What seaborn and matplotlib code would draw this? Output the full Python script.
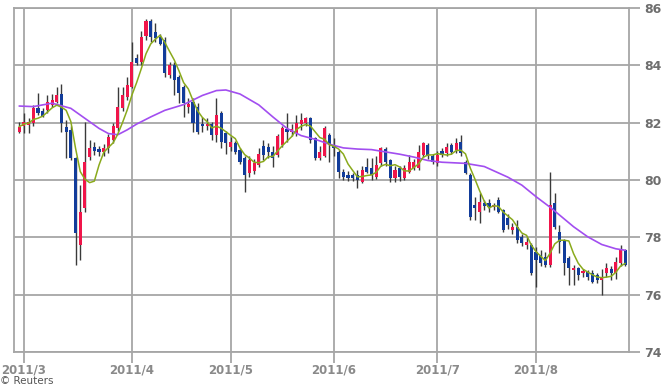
import numpy as np
import pandas as pd
import matplotlib
matplotlib.use("Agg")
import matplotlib.pyplot as plt
import seaborn as sns

# ---- data (daily USD/JPY candles, 2011-02-28 .. 2011-08-26) ----
opens = [81.69, 81.89, 81.92, 81.98, 82.50, 82.39, 82.44, 82.62, 82.73, 83.00,
         81.86, 81.75, 80.76, 77.73, 79.01, 80.79, 81.16, 81.07, 80.97, 81.10,
         81.40, 81.80, 82.50, 82.90, 83.25, 84.24, 84.13, 85.02, 85.56, 85.18,
         85.00, 84.90, 83.66, 84.00, 83.60, 83.26, 82.54, 82.73, 82.56, 81.95,
         81.90, 81.95, 81.57, 82.33, 81.63, 81.16, 81.28, 81.05, 80.76, 80.23,
         80.30, 80.52, 81.20, 81.16, 80.99, 80.88, 81.22, 81.78, 81.69, 81.63,
         81.95, 81.98, 82.15, 81.46, 80.76, 80.82, 81.57, 81.20, 80.99, 80.29,
         80.17, 80.17, 80.17, 79.94, 80.47, 80.41, 80.12, 80.58, 81.08, 80.70,
         80.06, 80.41, 80.06, 80.29, 80.41, 80.41, 80.87, 81.22, 80.82, 80.58,
         81.00, 80.93, 81.22, 81.04, 81.34, 80.64, 80.17, 79.13, 78.90, 79.20,
         79.20, 79.05, 79.30, 78.95, 78.66, 78.25, 78.37, 78.00, 77.75, 77.73,
         77.50, 77.38, 77.33, 77.04, 79.19, 78.20, 77.91, 77.27, 76.86, 76.92,
         76.75, 76.80, 76.77, 76.68, 76.52, 76.74, 76.90, 76.74, 77.10, 77.55]
highs = [82.04, 82.33, 82.15, 82.60, 83.05, 82.50, 82.97, 83.00, 83.26, 83.35,
         82.10, 81.90, 80.80, 79.83, 82.04, 81.40, 81.34, 81.20, 81.25, 81.60,
         82.00, 83.25, 83.25, 83.60, 84.83, 84.40, 85.20, 85.60, 85.60, 85.47,
         85.10, 85.00, 84.10, 84.10, 83.65, 83.30, 82.85, 82.85, 82.70, 82.20,
         82.15, 82.03, 82.85, 82.40, 81.70, 81.50, 81.35, 81.10, 80.85, 80.85,
         80.75, 81.10, 81.40, 81.30, 81.17, 81.60, 81.90, 82.33, 81.95, 82.27,
         82.33, 82.20, 82.20, 81.50, 81.20, 81.90, 81.65, 81.45, 81.05, 80.40,
         80.30, 80.25, 80.35, 80.50, 80.76, 80.76, 80.82, 81.16, 81.16, 80.75,
         80.50, 80.50, 80.52, 80.87, 80.75, 81.22, 81.34, 81.30, 80.90, 81.00,
         81.10, 81.30, 81.30, 81.45, 81.57, 80.70, 80.25, 79.40, 79.53, 79.30,
         79.35, 79.20, 79.40, 79.00, 78.80, 78.50, 78.60, 78.10, 78.00, 77.80,
         77.67, 77.55, 77.50, 80.29, 79.54, 78.43, 77.95, 77.35, 77.04, 76.98,
         76.90, 76.85, 76.85, 76.75, 76.90, 77.10, 77.00, 77.30, 77.73, 77.60]
lows = [81.63, 81.63, 81.63, 81.90, 82.27, 82.20, 82.33, 82.56, 82.68, 81.69,
        80.76, 80.70, 77.04, 77.21, 78.90, 80.70, 80.87, 80.85, 80.85, 80.95,
        81.30, 81.70, 82.40, 82.80, 83.20, 84.00, 84.00, 84.90, 84.83, 84.80,
        84.70, 83.60, 83.55, 82.96, 82.67, 82.20, 82.33, 81.69, 81.60, 81.69,
        81.75, 81.40, 81.34, 81.10, 80.90, 81.00, 80.90, 80.55, 79.59, 80.10,
        80.20, 80.45, 80.70, 80.76, 80.47, 80.80, 81.15, 81.34, 81.55, 81.55,
        81.75, 81.90, 81.30, 80.70, 80.70, 80.80, 80.64, 80.85, 80.06, 80.00,
        79.95, 79.97, 79.71, 79.90, 80.25, 80.00, 80.05, 80.50, 80.50, 79.94,
        79.94, 79.97, 80.00, 80.25, 80.35, 80.35, 80.80, 80.75, 80.55, 80.50,
        80.80, 80.85, 80.90, 80.95, 80.85, 80.20, 78.60, 78.60, 78.49, 78.95,
        78.90, 78.95, 78.85, 78.20, 78.30, 78.10, 77.80, 77.70, 77.60, 76.70,
        76.28, 77.00, 76.95, 76.95, 78.30, 77.44, 76.69, 76.34, 76.34, 76.50,
        76.60, 76.50, 76.40, 76.40, 75.99, 76.60, 76.50, 76.55, 77.00, 77.00]
closes = [81.86, 82.04, 82.04, 82.50, 82.33, 82.23, 82.73, 82.79, 82.97, 81.98,
          81.69, 80.76, 78.14, 78.90, 80.64, 81.10, 81.02, 80.96, 81.10, 81.50,
          81.90, 82.56, 82.96, 83.30, 84.10, 84.07, 85.00, 85.56, 85.00, 84.94,
          84.75, 83.75, 84.01, 83.50, 83.05, 82.68, 82.65, 81.98, 81.69, 81.90,
          81.95, 81.57, 82.27, 81.34, 81.28, 81.34, 80.99, 80.64, 80.17, 80.70,
          80.60, 80.90, 80.87, 80.99, 80.76, 81.52, 81.83, 81.67, 81.78, 81.98,
          82.10, 82.15, 81.40, 80.76, 80.99, 81.80, 81.22, 81.10, 80.29, 80.12,
          80.06, 80.08, 80.00, 80.35, 80.29, 80.17, 80.52, 81.10, 80.64, 80.06,
          80.35, 80.12, 80.41, 80.64, 80.64, 80.99, 81.28, 80.82, 80.64, 80.87,
          80.87, 81.16, 80.96, 81.28, 80.93, 80.23, 78.72, 79.01, 79.24, 79.10,
          79.05, 79.12, 78.90, 78.25, 78.43, 78.37, 77.90, 77.80, 77.85, 76.75,
          77.21, 77.10, 77.04, 79.13, 78.37, 77.85, 77.10, 76.92, 76.92, 76.69,
          76.82, 76.60, 76.45, 76.52, 76.57, 76.92, 76.74, 77.15, 77.60, 77.05]

# long moving average at trading-day positions
ma_long_pos = [0, 3, 7, 11, 14, 17, 19, 21, 23, 25, 28, 31, 35, 39, 42, 44, 47,
               51, 54, 57, 60, 63, 66, 69, 72, 75, 78, 81, 84, 87, 90, 95, 99,
               104, 107, 110, 113, 115, 118, 121, 124, 127, 129]
ma_long_val = [82.58, 82.56, 82.68, 82.50, 82.15, 81.80, 81.62, 81.58, 81.75,
               81.95, 82.20, 82.43, 82.63, 82.95, 83.12, 83.14, 83.00, 82.62,
               82.20, 81.80, 81.55, 81.42, 81.25, 81.12, 81.08, 81.06, 80.98,
               80.90, 80.80, 80.68, 80.62, 80.58, 80.47, 80.10, 79.82, 79.42,
               79.05, 78.78, 78.37, 78.02, 77.75, 77.60, 77.55]

month_labels = ["2011/3", "2011/4", "2011/5", "2011/6", "2011/7", "2011/8"]
y_ticks = [74, 76, 78, 80, 82, 84, 86]

# ---- figure ----
sns.set_theme(style="white")
plt.rcParams["font.family"] = ["DejaVu Sans"]

W, H = 664, 386
fig = plt.figure(figsize=(W / 100, H / 100), dpi=100)
ax = fig.add_axes([14 / W, 1 - 352 / H, (629 - 14) / W, (352 - 8) / H])

n = len(closes)
dates = pd.bdate_range("2011-02-28", periods=n)
df = pd.DataFrame({"date": dates, "pos": np.arange(n), "open": opens,
                   "high": highs, "low": lows, "close": closes})
df["ma5"] = df["close"].rolling(5, min_periods=1).mean()

up_col = "#f0154a"
dn_col = "#123c9a"
wick_col = "#3a3a3a"
colors = [up_col if c >= o else dn_col for o, c in zip(df["open"], df["close"])]
body_bot = np.minimum(df["open"], df["close"])
body_h = np.maximum(np.abs(df["close"] - df["open"]), 0.06)

ax.vlines(df["pos"], df["low"], df["high"], color=wick_col, lw=1.0, zorder=2)
ax.bar(df["pos"], body_h, bottom=body_bot, width=0.66, color=colors,
       linewidth=0, zorder=3)

ml = pd.DataFrame({"pos": ma_long_pos, "val": ma_long_val})
sns.lineplot(data=ml, x="pos", y="val", ax=ax, color="#a24ef0", lw=1.2,
             sort=False, legend=False, zorder=4)
sns.lineplot(data=df, x="pos", y="ma5", ax=ax, color="#8aaa1c", lw=1.1,
             sort=False, legend=False, zorder=5)

# month ticks at first trading day of each month
first_idx = df.groupby(df["date"].dt.to_period("M"))["pos"].min().values[1:]
ax.set_xticks(first_idx)
ax.set_xticklabels(month_labels)
ax.set_xlim(-1.1, 129.8)
ax.set_ylim(74, 86)
ax.set_yticks(y_ticks)
ax.yaxis.tick_right()
ax.set_xlabel("")
ax.set_ylabel("")

grid_col = "#a6a6a6"
ax.grid(True, color=grid_col, lw=1.3)
ax.set_axisbelow(True)
for s in ax.spines.values():
    s.set_color(grid_col)
    s.set_linewidth(1.3)
ax.tick_params(axis="y", length=8, width=1.3, color=grid_col, pad=3,
               labelsize=9, labelcolor="#6e6e6e", right=True, left=False)
ax.tick_params(axis="x", length=8, width=1.3, color=grid_col, pad=0,
               labelsize=8.5, labelcolor="#8a8a8a", bottom=True)
for lab in ax.get_yticklabels() + ax.get_xticklabels():
    lab.set_fontweight("bold")

fig.text(0.0, 1 - 375.5 / H, "© Reuters", fontsize=7.5, color="#555555",
         ha="left", va="top")

fig.savefig("out.png", dpi=100, facecolor="white")
